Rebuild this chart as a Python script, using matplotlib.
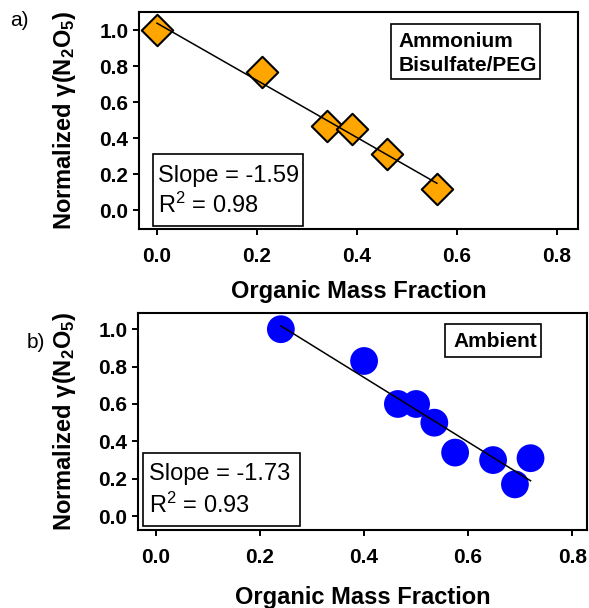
import numpy as np
import matplotlib
matplotlib.use("Agg")
import matplotlib.pyplot as plt
from matplotlib.patches import Rectangle

plt.rcParams["font.family"] = ["Liberation Sans", "DejaVu Sans"]
plt.rcParams["mathtext.default"] = "regular"

# ================== DATA ==================
# a) ammonium bisulfate / PEG
abs_x = [0.0, 0.21, 0.34, 0.39, 0.46, 0.56]
abs_y = [1.0, 0.77, 0.47, 0.45, 0.31, 0.12]
abs_slope = "-1.59"
abs_r2 = "0.98"

# b) ambient
amb_x = [0.24, 0.40, 0.465, 0.50, 0.535, 0.575, 0.648, 0.69, 0.72]
amb_y = [1.0, 0.83, 0.60, 0.60, 0.50, 0.34, 0.30, 0.17, 0.31]
amb_slope = "-1.73"
amb_r2 = "0.93"

xticks = [0.0, 0.2, 0.4, 0.6, 0.8]
yticks = [0.0, 0.2, 0.4, 0.6, 0.8, 1.0]

YLABEL = r"Normalized $\gamma$(N$_2$O$_5$)"
XLABEL = "Organic Mass Fraction"

fig = plt.figure(figsize=(5.89, 6.08), dpi=100)
ax1 = fig.add_axes([0.236, 0.623, 0.745, 0.357])
ax2 = fig.add_axes([0.234, 0.128, 0.763, 0.357])


def style(ax, xlim, ylim, ylab_x, xlab_y):
    ax.set_xlim(*xlim)
    ax.set_ylim(*ylim)
    ax.set_xticks(xticks)
    ax.set_yticks(yticks)
    ax.set_xticklabels([f"{t:.1f}" for t in xticks], fontweight="bold", fontsize=15)
    ax.set_yticklabels([f"{t:.1f}" for t in yticks], fontweight="bold", fontsize=15)
    ax.tick_params(axis="both", direction="out", length=4.5, width=1.4)
    ax.tick_params(axis="x", pad=8)
    ax.tick_params(axis="y", pad=3)
    for s in ax.spines.values():
        s.set_linewidth(1.5)
    ax.set_ylabel(YLABEL, fontsize=17, fontweight="bold")
    ax.set_xlabel(XLABEL, fontsize=17, fontweight="bold")
    ax.yaxis.set_label_coords(ylab_x, 0.5)
    ax.xaxis.set_label_coords(0.5, xlab_y)


def fit_line(ax, x, y):
    m, b = np.polyfit(x, y, 1)
    xx = np.array([min(x), max(x)])
    ax.plot(xx, m * xx + b, color="black", lw=1.1, zorder=3)


def box(ax, x0, y0, w, h):
    ax.add_patch(Rectangle((x0, y0), w, h, transform=ax.transAxes,
                           fill=True, facecolor="white", edgecolor="black",
                           lw=1.2, zorder=5))


# ---------- panel a ----------
ax1.scatter(abs_x, abs_y, marker="D", s=16 ** 2, facecolor="#FFA500",
            edgecolor="black", linewidth=1.5, zorder=2)
fit_line(ax1, abs_x, abs_y)
style(ax1, (-0.036, 0.842), (-0.106, 1.1), -0.14, -0.235)

box(ax1, 0.032, 0.014, 0.342, 0.332)
ax1.text(0.043, 0.217, f"Slope = {abs_slope}", transform=ax1.transAxes,
         fontsize=17, va="baseline", zorder=6)
ax1.text(0.043, 0.074, f"R$^2$ = {abs_r2}", transform=ax1.transAxes,
         fontsize=17, va="baseline", zorder=6)

box(ax1, 0.574, 0.691, 0.339, 0.254)
ax1.text(0.592, 0.839, "Ammonium", transform=ax1.transAxes,
         fontsize=15, fontweight="bold", va="baseline", zorder=6)
ax1.text(0.592, 0.728, "Bisulfate/PEG", transform=ax1.transAxes,
         fontsize=15, fontweight="bold", va="baseline", zorder=6)

# ---------- panel b ----------
ax2.scatter(amb_x, amb_y, marker="o", s=20 ** 2, facecolor="#0000FF",
            edgecolor="none", zorder=2)
fit_line(ax2, amb_x, amb_y)
style(ax2, (-0.035, 0.829), (-0.075, 1.086), -0.134, -0.255)

box(ax2, 0.011, 0.018, 0.35, 0.337)
ax2.text(0.025, 0.230, f"Slope = {amb_slope}", transform=ax2.transAxes,
         fontsize=17, va="baseline", zorder=6)
ax2.text(0.025, 0.078, f"R$^2$ = {amb_r2}", transform=ax2.transAxes,
         fontsize=17, va="baseline", zorder=6)

box(ax2, 0.684, 0.797, 0.214, 0.152)
ax2.text(0.702, 0.843, "Ambient", transform=ax2.transAxes,
         fontsize=15, fontweight="bold", va="baseline", zorder=6)

fig.text(0.017, 0.967, "a)", fontsize=15, va="center")
fig.text(0.046, 0.436, "b)", fontsize=15, va="center")

fig.savefig("out.png", dpi=100)
